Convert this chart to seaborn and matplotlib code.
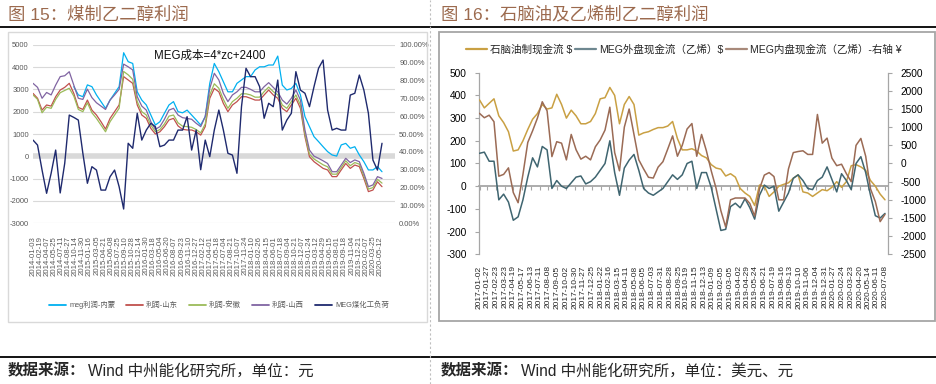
import matplotlib
matplotlib.use("Agg")
import numpy as np
import pandas as pd
import matplotlib.pyplot as plt
import matplotlib.dates as mdates
from matplotlib.lines import Line2D
from matplotlib.patches import Rectangle
from matplotlib import font_manager
import seaborn as sns

# ======================= DATA =======================
# ---- Fig 15 (monthly samples, 2014-01 .. 2020-05) ----
left_start = "2014-01-03"
left_end = "2020-05-25"
neimeng_first_index = 9          # 内蒙 series starts later

profit_shanxi = [3270, 3090, 2600, 2860, 2750, 3190, 3570, 3610, 3790, 3190,
                 2600, 2550, 3010, 2630, 2400, 2250, 2100, 2520, 2750, 3000,
                 4130, 4010, 3870, 2670, 2250, 2070, 1550, 1210, 1330, 1660,
                 2070, 2150, 1850, 1730, 1700, 1660, 1480, 1330, 1780, 3040,
                 3720, 3420, 2820, 2450, 2750, 2890, 3090, 3090, 3000, 2890,
                 2890, 3120, 3300, 3090, 2890, 2520, 2340, 2600, 2970, 2520,
                 1180, 280, 10, -90, -200, -320, -690, -690, -390, -90,
                 -280, -160, -240, -760, -1360, -1280, -910, -990]
profit_shandong = [2820, 2600, 2070, 2300, 2250, 2670, 2970, 3090, 3270, 2820,
                   2190, 2100, 2520, 2070, 1850, 1550, 1220, 1700, 2000, 2300,
                   3570, 3420, 3270, 2300, 1850, 1700, 1250, 1000, 1100, 1330,
                   1630, 1700, 1360, 1210, 1180, 1180, 1100, 950, 1330, 2600,
                   3040, 2890, 2370, 2000, 2300, 2450, 2670, 2670, 2600, 2520,
                   2520, 2750, 2970, 2750, 2600, 2150, 2000, 2300, 2600, 2150,
                   880, -20, -240, -390, -540, -610, -910, -910, -610, -320,
                   -540, -390, -460, -990, -1580, -1510, -1140, -1360]
profit_anhui = [2750, 2550, 1950, 2200, 2150, 2550, 2850, 2950, 3050, 2700,
                2100, 2000, 2400, 1950, 1700, 1400, 1100, 1550, 1850, 2150,
                3800, 3650, 3450, 2450, 2000, 1850, 1400, 1100, 1200, 1450,
                1800, 1850, 1500, 1350, 1330, 1300, 1200, 1050, 1450, 2750,
                3250, 3050, 2550, 2150, 2450, 2600, 2800, 2800, 2750, 2650,
                2650, 2900, 3100, 2900, 2750, 2300, 2150, 2450, 2750, 2300,
                1000, 100, -120, -250, -380, -470, -800, -800, -500, -200,
                -420, -280, -350, -880, -1470, -1400, -1030, -1200]
profit_neimeng = [3120, 2750, 2670, 3200, 3120, 2750, 2450, 2150, 2520, 2820,
                  3120, 4640, 4240, 4160, 2890, 2520, 2300, 1850, 1400, 1550,
                  1930, 2300, 2450, 2000, 1950, 2070, 1850, 1630, 1400, 1780,
                  3270, 4160, 3790, 3340, 2890, 2890, 3270, 3420, 3570, 3570,
                  3870, 4010, 4010, 4090, 4090, 4490, 3190, 2970, 3040, 3270,
                  2750, 1780, 1330, 880, 660, 430, 210, 60, 10, 510,
                  580, 360, 430, 60, -240, -610, -610, -460, -690]
meg_coal_load = [46.6, 43.8, 29.8, 16.8, 28.0, 41.0, 17.0, 33.6, 60.6, 59.3,
                 57.8, 39.2, 22.4, 31.7, 29.8, 18.6, 18.6, 26.1, 29.8, 20.5,
                 8.0, 44.8, 42.0, 61.6, 46.6, 52.2, 56.0, 54.1, 42.9, 43.8,
                 46.6, 46.6, 52.2, 52.2, 59.7, 41.0, 52.2, 30.0, 46.6, 37.3,
                 52.2, 63.4, 52.2, 39.2, 38.2, 28.0, 65.3, 86.8, 82.1, 82.1,
                 76.5, 58.8, 67.2, 65.3, 80.2, 52.2, 57.8, 61.6, 84.9, 74.6,
                 72.8, 65.3, 76.5, 86.8, 91.4, 63.4, 52.2, 53.2, 52.2, 52.2,
                 71.8, 72.8, 83.0, 74.6, 61.6, 35.4, 29.8, 44.8]
left_tick_labels = [d.strftime("%Y-%m-%d") for d in
                    pd.date_range("2014-01-03", "2020-05-12", periods=50)]
left_series_names = ["meg利润-内蒙", "利润-山东", "利润-安徽", "利润-山西", "MEG煤化工负荷"]

# ---- Fig 16 (semi-monthly samples, 2017-01 .. 2020-07) ----
right_start = "2017-01-02"
right_end = "2020-07-08"
naphtha_cf = [380, 345, 365, 385, 310, 280, 240, 155, 160, 200,
              250, 295, 320, 360, 340, 345, 405, 360, 300, 335,
              310, 275, 275, 285, 320, 385, 390, 435, 400, 275,
              360, 395, 360, 225, 235, 240, 250, 258, 258, 265,
              285, 210, 160, 160, 165, 155, 135, 125, 95, 80,
              75, 45, 55, 40, -10, -30, -45, -85, 5, 0,
              -45, -25, 0, 8, 15, 35, 50, -25, -30, -45,
              -30, -15, -20, -5, 20, -5, 20, 90, 95, 85,
              70, 25, 0, -35, -60]
meg_ext_cf = [145, 150, 110, 110, -60, -35, -70, -150, -135, -60,
              40, 125, 85, 175, 160, -10, 25, 0, -10, 15,
              40, 45, 10, 20, 40, 70, 100, 200, 60, -40,
              80, 115, 140, 70, -10, -30, -40, -25, -10, 20,
              50, 30, 50, 100, 110, -10, 60, 60, -5, -100,
              -195, -190, -90, -75, -95, -55, -95, -145, -40, 5,
              -10, 0, -110, -70, -30, 35, 50, 25, -10, -15,
              25, 40, 85, 30, -25, 55, 25, -15, 100, 130,
              60, -40, -130, -140, -120]
meg_dom_cf = [1380, 1260, 1330, 1150, -350, -300, -120, -800, -1080, -300,
              580, 900, 1250, 1700, 1450, 190, 600, 560, 100, 800,
              380, 120, 200, 100, 460, 650, 920, 1550, 300, -200,
              1000, 1500, 800, 100, -150, -380, -400, -100, 50, 400,
              760, 200, 500, 950, 1100, 200, 800, 350, -200, -680,
              -1300, -1750, -1000, -950, -950, -950, -1100, -1450, -700, -320,
              -250, -360, -1000, -1000, -150, 300, 330, 350, 250, 250,
              1350, 560, 700, 150, -60, -20, -280, -500, 500, 690,
              200, -700, -1050, -1600, -1400]
right_tick_labels = ["2017-01-02", "2017-01-27", "2017-02-23", "2017-03-23", "2017-04-19",
                     "2017-05-17", "2017-06-13", "2017-07-11", "2017-08-08", "2017-09-05",
                     "2017-10-02", "2017-10-30", "2017-11-27", "2017-12-25", "2018-01-22",
                     "2018-02-16", "2018-03-15", "2018-04-11", "2018-05-08", "2018-06-05",
                     "2018-07-03", "2018-07-31", "2018-08-28", "2018-09-25", "2018-10-19",
                     "2018-11-15", "2018-12-13", "2019-01-09", "2019-02-05", "2019-03-05",
                     "2019-04-02", "2019-04-29", "2019-05-24", "2019-06-21", "2019-07-19",
                     "2019-08-16", "2019-09-13", "2019-10-10", "2019-11-06", "2019-12-04",
                     "2019-12-31", "2020-01-27", "2020-02-24", "2020-03-23", "2020-04-20",
                     "2020-05-14", "2020-06-11", "2020-07-08"]
right_series_names = ["石脑油制现金流 $", "MEG外盘现金流（乙烯）$", "MEG内盘现金流（乙烯）-右轴 ¥"]

# ======================= STYLE =======================
sns.set_style("white")
plt.rcParams['font.family'] = ['Liberation Sans', 'Noto Sans CJK SC', 'DejaVu Sans']
plt.rcParams['axes.unicode_minus'] = False
names = {f.name for f in font_manager.fontManager.ttflist}
NARROW = 'Liberation Sans Narrow' if 'Liberation Sans Narrow' in names else 'Liberation Sans'
NARROW_FAM = [NARROW, 'Noto Sans CJK SC', 'DejaVu Sans']

W, H = 937, 384
fig = plt.figure(figsize=(W / 100, H / 100), dpi=100)
def fx(x): return x / W
def fy(y): return 1 - y / H

# ======================= FIG 15 =======================
c_nm, c_sd, c_ah, c_sx, c_load = "#00B0F0", "#C0504D", "#9BBB59", "#8064A2", "#1F2A6E"
d_left = pd.date_range(left_start, left_end, periods=len(profit_shanxi))
axL = fig.add_axes([fx(33), fy(223.3), fx(395) - fx(33), (223.3 - 44.7) / H])
axL.axhline(0, color="#D9D9D9", lw=4, zorder=1.5)
sns.lineplot(x=d_left[neimeng_first_index:], y=profit_neimeng, ax=axL, color=c_nm, lw=0.9, zorder=3)
sns.lineplot(x=d_left, y=profit_shandong, ax=axL, color=c_sd, lw=0.9, zorder=3)
sns.lineplot(x=d_left, y=profit_anhui, ax=axL, color=c_ah, lw=0.9, zorder=3)
sns.lineplot(x=d_left, y=profit_shanxi, ax=axL, color=c_sx, lw=0.9, zorder=3)
x0 = mdates.date2num(d_left[0]); x1 = mdates.date2num(d_left[-1])
ppx = (x1 - x0) / (382 - 33)
axL.set_xlim(x0, x0 + (395 - 33) * ppx)
axL.set_ylim(-3000, 5000)
yt = list(range(-3000, 5001, 1000))
axL.set_yticks(yt, [str(v) for v in yt], fontfamily=NARROW_FAM, fontsize=5.5, color="#595959")
lt = mdates.date2num(pd.to_datetime(left_tick_labels))
axL.set_xticks(lt, left_tick_labels, fontfamily=NARROW_FAM, fontsize=5.6, color="#595959", rotation=90)
axL.tick_params(axis='both', length=0)
axL.tick_params(axis='x', pad=9)
axL.tick_params(axis='y', pad=3)
axL.grid(axis='y', color="#D9D9D9", lw=0.8)
axL.grid(axis='x', visible=False)
axL.set_axisbelow(True)
for s in axL.spines.values():
    s.set_visible(False)
axL.set_xlabel(""); axL.set_ylabel("")

axL2 = axL.twinx()
sns.lineplot(x=d_left, y=meg_coal_load, ax=axL2, color=c_load, lw=1.0)
axL2.set_ylim(0, 100)
pt = list(range(0, 101, 10))
axL2.set_yticks(pt, [f"{v:.2f}%" for v in pt], fontfamily=NARROW_FAM, fontsize=5.5, color="#595959")
axL2.tick_params(axis='y', length=0, pad=3)
axL2.grid(False)
for s in axL2.spines.values():
    s.set_visible(False)
axL2.set_ylabel("")

fig.text(fx(210), fy(56), "MEG成本=4*zc+2400", ha='center', va='center',
         fontsize=8.3, family=NARROW_FAM, color="#111111")

handlesL = [Line2D([], [], color=c, lw=1.3) for c in (c_nm, c_sd, c_ah, c_sx, c_load)]
fig.legend(handlesL, left_series_names, loc='center', bbox_to_anchor=(fx(219), fy(305)),
           ncol=5, frameon=False, prop=font_manager.FontProperties(family=NARROW_FAM, size=5.3),
           handlelength=2.3, handletextpad=0.4, columnspacing=1.5, labelcolor="#595959",
           borderpad=0, borderaxespad=0)

# ======================= FIG 16 =======================
c_nap, c_ext, c_dom = "#C9A043", "#3F6570", "#9B6B55"
d_right = pd.date_range(right_start, right_end, periods=len(naphtha_cf))
axR = fig.add_axes([fx(479), fy(254.3), fx(888) - fx(479), (254.3 - 72.7) / H])
sns.lineplot(x=d_right, y=naphtha_cf, ax=axR, color=c_nap, lw=1.1, zorder=3)
sns.lineplot(x=d_right, y=meg_ext_cf, ax=axR, color=c_ext, lw=1.1, zorder=3)
r0 = mdates.date2num(d_right[0]); r1 = mdates.date2num(d_right[-1])
rpx = (r1 - r0) / (885 - 479.5)
axR.set_xlim(r0 - 0.5 * rpx, r0 + (888 - 479.5) * rpx)
axR.set_ylim(-300, 500)
ry = list(range(-300, 501, 100))
axR.set_yticks(ry, [str(v) for v in ry], fontsize=7.3, color="#000000")
rt = mdates.date2num(pd.to_datetime(right_tick_labels))
axR.set_xticks(rt, right_tick_labels, fontsize=6, rotation=90)
axR.grid(False)
axR.spines['top'].set_visible(False)
axR.spines['right'].set_visible(False)
axR.spines['left'].set_color("#A6A6A6"); axR.spines['left'].set_linewidth(0.9)
axR.spines['bottom'].set_position(('data', 0))
axR.spines['bottom'].set_color("#A6A6A6"); axR.spines['bottom'].set_linewidth(1.3)
axR.tick_params(axis='y', direction='out', length=3, width=0.8, color="#A6A6A6", pad=6, left=True)
axR.tick_params(axis='x', direction='out', length=3, width=0.8, color="#A6A6A6",
                labelbottom=False, bottom=True)
axR.set_xlabel(""); axR.set_ylabel("")

axR2 = axR.twinx()
sns.lineplot(x=d_right, y=meg_dom_cf, ax=axR2, color=c_dom, lw=1.1)
axR2.set_ylim(-2500, 2500)
r2 = list(range(-2500, 2501, 500))
axR2.set_yticks(r2, [str(v) for v in r2], fontsize=7.3, color="#000000")
axR2.grid(False)
for k in ('top', 'left', 'bottom'):
    axR2.spines[k].set_visible(False)
axR2.spines['right'].set_color("#A6A6A6"); axR2.spines['right'].set_linewidth(0.9)
axR2.tick_params(axis='y', direction='out', length=3, width=0.8, color="#A6A6A6", pad=6, right=True)
axR2.xaxis.set_visible(True)
axR2.tick_params(axis='x', length=0, pad=8, labelsize=6, labelrotation=90, labelbottom=True, bottom=False)
axR2.set_ylabel(""); axR2.set_xlabel("")

handlesR = [Line2D([], [], color=c, lw=1.6) for c in (c_nap, "#6E8790", "#A8897A")]
fig.legend(handlesR, right_series_names, loc='center left', bbox_to_anchor=(fx(466), fy(49)),
           ncol=3, frameon=False, fontsize=7.6, handlelength=2.0, handletextpad=0.25,
           columnspacing=0.3, borderpad=0, borderaxespad=0)

# ======================= FRAME / TEXT =======================
title_color = "#9C6A4E"
fig.text(fx(8), fy(14.5), "图 15：煤制乙二醇利润", fontsize=12.5, color=title_color, va='center')
fig.text(fx(441), fy(14.5), "图 16：石脑油及乙烯制乙二醇利润", fontsize=12.5, color=title_color, va='center')

fig.add_artist(Rectangle((fx(8), fy(322)), fx(427) - fx(8), (322 - 32) / H, transform=fig.transFigure,
                         fill=False, ec="#D9D9D9", lw=1.0))
fig.add_artist(Rectangle((fx(439), fy(321)), fx(935) - fx(439), (321 - 32) / H, transform=fig.transFigure,
                         fill=False, ec="#A6A6A6", lw=1.3))
fig.add_artist(Line2D([0, 1], [fy(27)] * 2, color="black", lw=1.3, transform=fig.transFigure))
fig.add_artist(Line2D([0, 1], [fy(356.5)] * 2, color="black", lw=1.3, transform=fig.transFigure))
fig.add_artist(Line2D([fx(430.5)] * 2, [0, 1], color="#BFBFBF", lw=0.8, dashes=(2, 2),
                      transform=fig.transFigure))

fig.text(fx(8), fy(371), "数据来源：", fontsize=11.2, fontweight='bold', va='center')
fig.text(fx(88), fy(371), "Wind 中州能化研究所，单位：元", fontsize=11.2, va='center')
fig.text(fx(441), fy(371), "数据来源：", fontsize=11.2, fontweight='bold', va='center')
fig.text(fx(521), fy(371), "Wind 中州能化研究所，单位：美元、元", fontsize=11.2, va='center')

fig.savefig("out.png", dpi=100)
